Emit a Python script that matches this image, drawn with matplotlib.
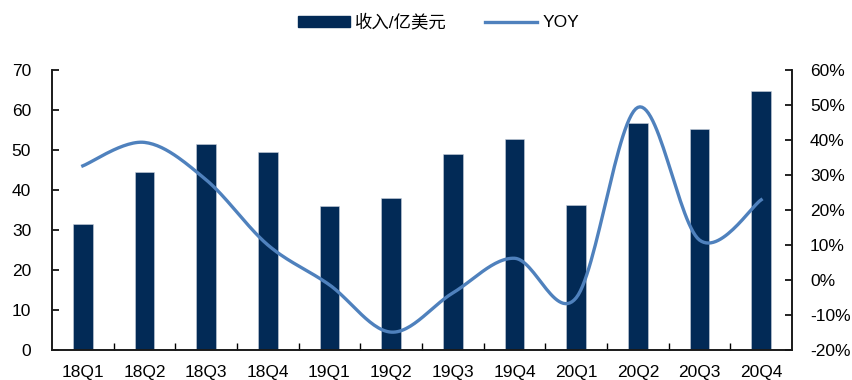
import matplotlib.pyplot as plt
import numpy as np
from matplotlib.patches import Patch
from matplotlib.lines import Line2D

plt.rcParams['font.family'] = ['Liberation Sans', 'Noto Sans CJK SC', 'DejaVu Sans']

quarters = ['18Q1', '18Q2', '18Q3', '18Q4', '19Q1', '19Q2', '19Q3', '19Q4',
            '20Q1', '20Q2', '20Q3', '20Q4']
revenue = [31.5, 44.6, 51.6, 49.6, 35.9, 38.0, 49.1, 52.8, 36.2, 56.7, 55.2, 64.8]
yoy = [32.6, 39.3, 28.6, 10.0, -1.4, -14.9, -3.7, 6.2, -5.1, 49.3, 11.4, 22.9]

navy = '#022a56'
blue = '#4f81bd'


def smooth(x, y, n=30):
    # Excel-like smoothed line: cubic bezier between points
    x = np.asarray(x, float)
    y = np.asarray(y, float)
    xs, ys = [], []
    for i in range(len(x) - 1):
        p0 = (x[max(i - 1, 0)], y[max(i - 1, 0)])
        p1 = (x[i], y[i])
        p2 = (x[i + 1], y[i + 1])
        p3 = (x[min(i + 2, len(x) - 1)], y[min(i + 2, len(x) - 1)])
        c1 = (p1[0] + (p2[0] - p0[0]) / 6, p1[1] + (p2[1] - p0[1]) / 6)
        c2 = (p2[0] - (p3[0] - p1[0]) / 6, p2[1] - (p3[1] - p1[1]) / 6)
        t = np.linspace(0, 1, n)
        bx = (1-t)**3*p1[0] + 3*(1-t)**2*t*c1[0] + 3*(1-t)*t**2*c2[0] + t**3*p2[0]
        by = (1-t)**3*p1[1] + 3*(1-t)**2*t*c1[1] + 3*(1-t)*t**2*c2[1] + t**3*p2[1]
        xs.extend(bx)
        ys.extend(by)
    return np.array(xs), np.array(ys)


fig = plt.figure(figsize=(8.52, 3.8), dpi=100)
ax = fig.add_axes([0.061, 0.079, 0.8686, 0.737])
x = np.arange(len(quarters))

ax.bar(x, revenue, width=0.32, color=navy, edgecolor='#c8d0dc', linewidth=0.4, zorder=2)
ax.set_xlim(-0.5, len(quarters) - 0.5)
ax.set_ylim(0, 70)
ax.set_yticks(range(0, 71, 10))
ax.set_xticks(x)
ax.set_xticklabels(quarters)
ax.set_xticks(np.arange(0.5, len(quarters) - 0.5, 1), minor=True)
ax.tick_params(axis='x', which='major', length=0, pad=11, labelsize=12.5)
ax.tick_params(axis='x', which='minor', direction='in', length=5, width=1)
ax.tick_params(axis='y', direction='in', length=5, width=1.2, labelsize=12.5, pad=15)

ax2 = ax.twinx()
sx, sy = smooth(x, yoy)
ax2.plot(sx, sy, color=blue, linewidth=2.4, zorder=3)
ax2.set_ylim(-20, 60)
ax2.set_yticks(range(-20, 61, 10))
ax2.set_yticklabels([f'{v}%' for v in range(-20, 61, 10)])
ax2.tick_params(axis='y', direction='in', length=5, width=1.2, labelsize=12.5, pad=13)

for a in (ax, ax2):
    a.spines['top'].set_visible(False)
    for s in ('left', 'right', 'bottom'):
        a.spines[s].set_linewidth(1.2)
        a.spines[s].set_color('#1a1a1a')

handles = [Patch(facecolor=navy, edgecolor=navy),
           Line2D([0], [0], color=blue, linewidth=2.4)]
fig.legend(handles, ['收入/亿美元', 'YOY'], loc='center', bbox_to_anchor=(0.515, 0.942),
           ncol=2, frameon=False, fontsize=12.5, handlelength=3.0, handleheight=0.6,
           columnspacing=2.2, handletextpad=0.3)

fig.savefig('out.png', dpi=100)
